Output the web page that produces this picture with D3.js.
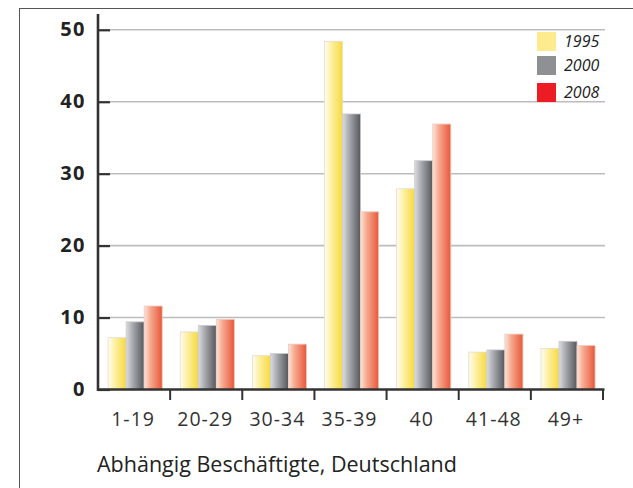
<!DOCTYPE html>
<html><head><meta charset="utf-8">
<script src="https://cdn.jsdelivr.net/npm/d3@7/dist/d3.min.js"></script>
<style>
html,body{margin:0;padding:0;background:#fff;}
svg{display:block;}
</style>
</head><body>
<svg id="chart" width="633" height="488"></svg>
<script>
const categories = ["1-19","20-29","30-34","35-39","40","41-48","49+"];
const seriesNames = ["1995","2000","2008"];
const values1995 = [7.2, 8.0, 4.7, 48.4, 27.9, 5.2, 5.7];
const values2000 = [9.4, 8.9, 5.0, 38.3, 31.8, 5.5, 6.7];
const values2008 = [11.6, 9.75, 6.3, 24.7, 36.9, 7.7, 6.1];
const yTicks = [0,10,20,30,40,50];
const caption = "Abhängig Beschäftigte, Deutschland";

const seriesValues = [values1995, values2000, values2008];
const svg = d3.select("#chart");

// frame
svg.append("rect").attr("x",19.5).attr("y",8.5).attr("width",700).attr("height",600)
  .attr("fill","none").attr("stroke","#555").attr("stroke-width",1);

const x0 = d3.scaleBand().domain(categories).range([98, 603]).padding(0);
const bw = x0.bandwidth();
const x1 = d3.scaleBand().domain(seriesNames).range([bw*0.14, bw*0.89]).padding(0);
const y = d3.scaleLinear().domain([0,50]).range([389.5, 29.8]);

// gradients
const defs = svg.append("defs");
const grads = [
  {id:"g1995", stops:[["0%","#fffdf2"],["35%","#fdf1a8"],["100%","#f6da3e"]]},
  {id:"g2000", stops:[["0%","#dcdde0"],["35%","#a9abb0"],["100%","#55575c"]]},
  {id:"g2008", stops:[["0%","#fde3d8"],["35%","#f6a88e"],["100%","#e8573a"]]}
];
grads.forEach(g=>{
  const lg = defs.append("linearGradient").attr("id",g.id).attr("x1","0").attr("x2","1").attr("y1","0").attr("y2","0");
  g.stops.forEach(s=>lg.append("stop").attr("offset",s[0]).attr("stop-color",s[1]));
});
const legendColors = ["#fdeb8e","#8f9094","#ed1c24"];
const strokeColors = ["#e2dccf","#c9c9cf","#eccabd"];

// gridlines
svg.append("g").selectAll("line").data(yTicks.filter(d=>d>0)).join("line")
  .attr("x1",98).attr("x2",605).attr("y1",d=>y(d)).attr("y2",d=>y(d))
  .attr("stroke","#bdbdbd").attr("stroke-width",1.6);

// y axis
const yAxis = d3.axisLeft(y).tickValues(yTicks).tickSize(-12).tickPadding(24).tickFormat(d3.format("d"));
const yg = svg.append("g").attr("transform","translate(98,0)").call(yAxis);
yg.select(".domain").remove();
yg.selectAll(".tick line").attr("stroke","#333").attr("stroke-width",2.2);
yg.selectAll(".tick text").attr("font-family","'Open Sans', sans-serif").attr("font-weight","bold")
  .attr("font-size",20).attr("letter-spacing",1.5).attr("fill","#222").attr("dx",12).attr("dy","0.3em");
svg.append("line").attr("x1",98).attr("x2",98).attr("y1",14).attr("y2",391)
  .attr("stroke","#333").attr("stroke-width",2.6);

// bars
const groups = svg.append("g").selectAll("g").data(categories).join("g")
  .attr("transform",d=>`translate(${x0(d)},0)`);
groups.selectAll("rect").data((c,i)=>seriesNames.map((s,j)=>({s, j, v: seriesValues[j][i]}))).join("rect")
  .attr("x",d=>x1(d.s)).attr("width",x1.bandwidth())
  .attr("y",d=>y(d.v)).attr("height",d=>y(0)-y(d.v))
  .attr("fill",d=>`url(#g${d.s})`).attr("stroke",d=>strokeColors[d.j]).attr("stroke-width",0.8);

// x axis
const xAxis = d3.axisBottom(x0).tickSize(0).tickPadding(23);
const xg = svg.append("g").attr("transform",`translate(0,${y(0)})`).call(xAxis);
xg.select(".domain").remove();
xg.selectAll(".tick text").attr("font-family","'Open Sans', sans-serif").attr("font-size",19.5)
  .attr("letter-spacing",1).attr("fill","#333").attr("dx",-1);
svg.append("line").attr("x1",97).attr("x2",604.5).attr("y1",y(0)).attr("y2",y(0))
  .attr("stroke","#333").attr("stroke-width",2.6);
svg.append("g").selectAll("line").data(categories).join("line")
  .attr("x1",d=>x0(d)+bw).attr("x2",d=>x0(d)+bw).attr("y1",y(0)).attr("y2",400)
  .attr("stroke","#333").attr("stroke-width",2);

// legend
const lg = svg.append("g");
const legendY = [32, 56, 83];
seriesNames.forEach((s,i)=>{
  lg.append("rect").attr("x",537).attr("y",legendY[i]).attr("width",19).attr("height",19).attr("fill",legendColors[i]);
  lg.append("text").attr("x",564).attr("y",legendY[i]+15).text(s)
    .attr("font-family","'Open Sans', sans-serif").attr("font-style","italic").attr("font-size",16).attr("fill","#222");
});

// caption
svg.append("text").attr("x",97).attr("y",472).text(caption)
  .attr("font-family","'Open Sans', sans-serif").attr("font-size",21.5).attr("fill","#222");
</script>
</body></html>
